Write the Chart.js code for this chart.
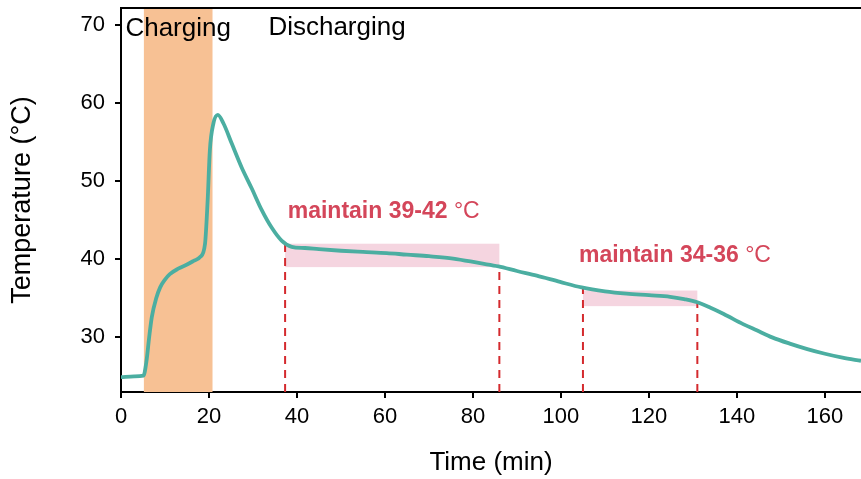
<!DOCTYPE html>
<html>
<head>
<meta charset="utf-8">
<script src="https://cdn.jsdelivr.net/npm/chart.js@4.4.1/dist/chart.umd.min.js"></script>
<style>
  html, body { margin: 0; padding: 0; background: #ffffff; }
  #wrap { width: 861px; height: 479px; position: relative; }
</style>
</head>
<body>
<div id="wrap"><canvas id="c" width="861" height="479"></canvas></div>
<script>
// ---- data ----
const timeMin = [0, 3, 5.1, 5.8, 6.4, 7.0, 8.0, 8.9, 10.0, 11.1, 13.0, 14.9, 16.5, 18.0, 19.1, 19.7, 20.2, 21.0, 22.0, 23.3, 25.2, 27.4, 29.7, 32.0, 34.2, 36.5, 38.8, 41.8, 45, 50, 55, 60.4, 65, 70, 75.5, 81.6, 85.8, 90, 94.5, 99.8, 104.7, 110, 114.9, 120, 124.8, 128, 131, 134, 137, 141.4, 144.5, 148, 152, 156, 160, 164, 168.2];
const temperature = [24.9, 25.0, 25.1, 27.0, 30.0, 32.6, 35.0, 36.4, 37.4, 38.1, 38.8, 39.3, 39.8, 40.3, 42.0, 47.6, 54.0, 57.4, 58.5, 57.4, 54.8, 51.8, 49.1, 46.3, 44.1, 42.4, 41.6, 41.45, 41.3, 41.1, 40.95, 40.8, 40.6, 40.4, 40.1, 39.5, 39.1, 38.5, 37.9, 37.1, 36.4, 35.9, 35.6, 35.4, 35.2, 34.9, 34.5, 33.8, 33.0, 31.7, 30.9, 30.0, 29.2, 28.5, 27.9, 27.4, 27.0];
const xTicks = [0, 20, 40, 60, 80, 100, 120, 140, 160];
const yTicks = [30, 40, 50, 60, 70];
const chargingWindow = [5.2, 20.8];            // minutes
const phaseLabels = ['Charging', 'Discharging'];
const phaseLabelX = [1, 33.5];                 // minutes
const bandStart = [37.3, 105];
const bandEnd = [86, 131];
const bandLow = [39, 34];
const bandHigh = [42, 36];
const bandText = ['maintain 39-42 ', 'maintain 34-36 '];
const bandTextX = [37.9, 104.1];
const bandTextY = [45.3, 39.6];
const markerTimes = [37.3, 86, 105, 131];
const markerTops = [42.2, 39.2, 36.4, 34.6];

const points = timeMin.map((t, i) => ({ x: t, y: temperature[i] }));

const overlay = {
  id: 'overlay',
  beforeDatasetsDraw(chart) {
    const { ctx, chartArea: a, scales: { x, y } } = chart;
    ctx.save();
    ctx.beginPath();
    ctx.rect(a.left, a.top, a.right - a.left, a.bottom - a.top);
    ctx.clip();
    // charging band
    ctx.fillStyle = '#F7C194';
    const x0 = x.getPixelForValue(chargingWindow[0]);
    const x1 = x.getPixelForValue(chargingWindow[1]);
    ctx.fillRect(x0, a.top, x1 - x0, a.bottom - a.top);
    // maintain bands
    ctx.fillStyle = '#F5D5E0';
    for (let i = 0; i < bandStart.length; i++) {
      const bx0 = x.getPixelForValue(bandStart[i]);
      const bx1 = x.getPixelForValue(bandEnd[i]);
      const by0 = y.getPixelForValue(bandHigh[i]);
      const by1 = y.getPixelForValue(bandLow[i]);
      ctx.fillRect(bx0, by0, bx1 - bx0, by1 - by0);
    }
    // dashed markers
    ctx.strokeStyle = '#D42A2E';
    ctx.lineWidth = 2;
    ctx.setLineDash([8, 6]);
    for (let i = 0; i < markerTimes.length; i++) {
      const mx = x.getPixelForValue(markerTimes[i]);
      ctx.beginPath();
      ctx.moveTo(mx, a.bottom);
      ctx.lineTo(mx, y.getPixelForValue(markerTops[i]));
      ctx.stroke();
    }
    ctx.restore();
  },
  afterDraw(chart) {
    const { ctx, chartArea: a, scales: { x, y } } = chart;
    ctx.save();
    // top frame line
    ctx.strokeStyle = '#000';
    ctx.lineWidth = 2;
    ctx.beginPath();
    ctx.moveTo(a.left - 1, a.top);
    ctx.lineTo(a.right, a.top);
    ctx.stroke();
    // phase labels
    ctx.fillStyle = '#000';
    ctx.font = '26px "Liberation Sans", Arial, sans-serif';
    ctx.textBaseline = 'alphabetic';
    ctx.textAlign = 'left';
    ctx.fillText(phaseLabels[0], x.getPixelForValue(phaseLabelX[0]), a.top + 28);
    ctx.fillText(phaseLabels[1], x.getPixelForValue(phaseLabelX[1]), a.top + 27);
    // band labels
    for (let i = 0; i < bandText.length; i++) {
      const tx = x.getPixelForValue(bandTextX[i]);
      const ty = y.getPixelForValue(bandTextY[i]);
      ctx.fillStyle = '#D4465A';
      ctx.font = 'bold 23px "Liberation Sans", Arial, sans-serif';
      ctx.fillText(bandText[i], tx, ty);
      const w = ctx.measureText(bandText[i]).width;
      ctx.font = '23px "Liberation Sans", Arial, sans-serif';
      ctx.fillText('\u00B0C', tx + w, ty);
    }
    ctx.restore();
  }
};

new Chart(document.getElementById('c'), {
  type: 'line',
  data: {
    datasets: [{
      data: points,
      borderColor: '#4BAEA1',
      borderWidth: 3.8,
      pointRadius: 0,
      cubicInterpolationMode: 'monotone',
      fill: false
    }]
  },
  options: {
    responsive: false,
    animation: false,
    events: [],
    layout: { padding: { top: 8, right: 0, left: 0, bottom: 0 } },
    plugins: { legend: { display: false }, tooltip: { enabled: false } },
    scales: {
      x: {
        type: 'linear',
        min: 0,
        max: 168.2,
        afterBuildTicks(s) { s.ticks = xTicks.map(v => ({ value: v })); },
        afterFit(s) { s.height = 87; s.paddingLeft = 0; s.paddingRight = 0; },
        grid: { drawOnChartArea: false, drawTicks: true, tickLength: 6, color: '#000', lineWidth: 2 },
        border: { display: true, color: '#000', width: 2 },
        ticks: { color: '#000', padding: 6, maxRotation: 0, autoSkip: false,
                 font: { family: '"Liberation Sans", Arial, sans-serif', size: 22 } },
        title: { display: true, text: 'Time (min)', color: '#000',
                 font: { family: '"Liberation Sans", Arial, sans-serif', size: 26 },
                 padding: { top: 0, bottom: 1 } }
      },
      y: {
        type: 'linear',
        min: 23,
        max: 72.2,
        afterBuildTicks(s) { s.ticks = yTicks.map(v => ({ value: v })); },
        afterFit(s) { s.width = 121; s.paddingTop = 0; s.paddingBottom = 0; },
        grid: { drawOnChartArea: false, drawTicks: true, tickLength: 6, color: '#000', lineWidth: 2 },
        border: { display: true, color: '#000', width: 2 },
        ticks: { color: '#000', padding: 10,
                 font: { family: '"Liberation Sans", Arial, sans-serif', size: 22 } },
        title: { display: true, text: 'Temperature (\u00B0C)', color: '#000',
                 font: { family: '"Liberation Sans", Arial, sans-serif', size: 27 },
                 padding: { top: 6, bottom: 0 } }
      }
    }
  },
  plugins: [overlay]
});
</script>
</body>
</html>
